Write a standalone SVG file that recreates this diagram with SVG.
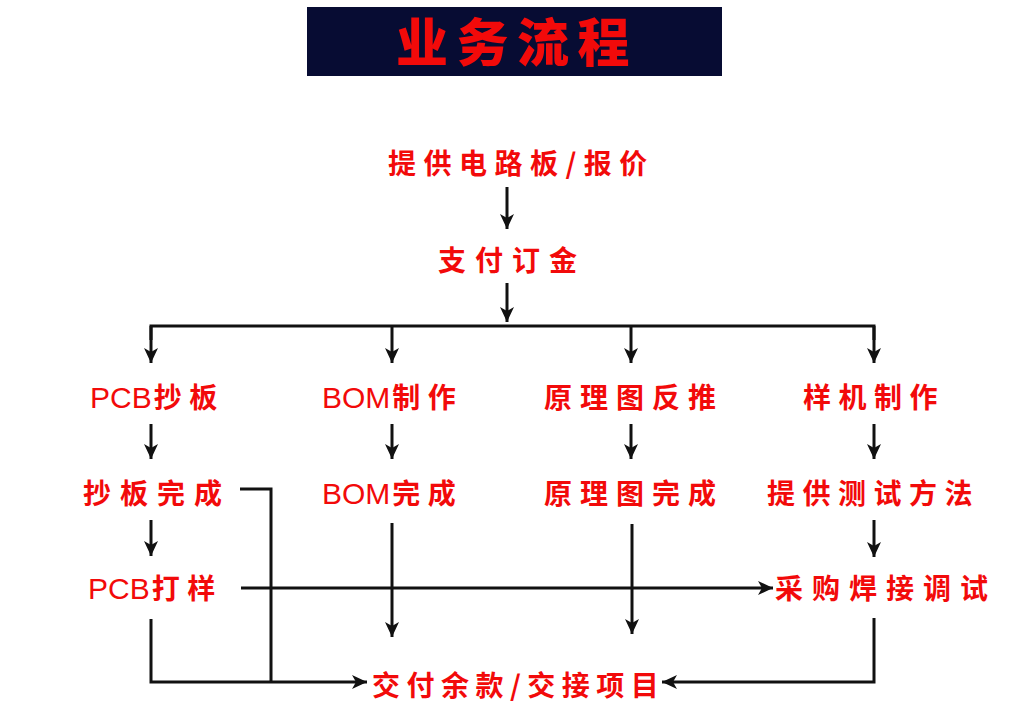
<svg xmlns="http://www.w3.org/2000/svg" width="1024" height="711" viewBox="0 0 1024 711">
<style>
.t{font-family:"Noto Sans CJK SC","Liberation Sans",sans-serif;font-weight:700;font-size:28px;fill:#f20a0a;letter-spacing:7.5px}
.lat{font-family:"Liberation Sans","Noto Sans",sans-serif;font-weight:400;font-size:30px;letter-spacing:0}
.title{font-family:"Noto Sans CJK SC",sans-serif;font-weight:900;font-size:52px;fill:#f20a0a;letter-spacing:8.5px}
.ln{fill:none;stroke:#111;stroke-width:3}
.ar{marker-end:url(#ah)}
</style>
<defs>
<marker id="ah" markerUnits="userSpaceOnUse" markerWidth="16" markerHeight="14" refX="15" refY="7" orient="auto">
<path d="M0,0 L15,7 L0,14 L4,7 z" fill="#111"/>
</marker>
</defs>
<rect width="1024" height="711" fill="#fff"/>
<g id="title">
<rect x="307" y="7" width="415" height="69" fill="#070c33"/>
<text class="title" x="396" y="62">业务流程</text>
</g>
<g id="connectors">
<line class="ln ar" x1="507" y1="187" x2="507" y2="229"/>
<polyline class="ln" points="151,340 151,326 874,326 874,340"/>
<line class="ln ar" x1="507" y1="283" x2="507" y2="322"/>
<line class="ln ar" x1="151" y1="326" x2="151" y2="363"/>
<line class="ln ar" x1="392" y1="326" x2="392" y2="363"/>
<line class="ln ar" x1="631" y1="326" x2="631" y2="363"/>
<line class="ln ar" x1="874" y1="326" x2="874" y2="363"/>
<line class="ln ar" x1="151" y1="424" x2="151" y2="459"/>
<line class="ln ar" x1="392" y1="424" x2="392" y2="459"/>
<line class="ln ar" x1="631" y1="424" x2="631" y2="459"/>
<line class="ln ar" x1="874" y1="424" x2="874" y2="459"/>
<line class="ln ar" x1="151" y1="520" x2="151" y2="556"/>
<line class="ln ar" x1="874" y1="520" x2="874" y2="557"/>
<line class="ln ar" x1="241" y1="588" x2="773" y2="588"/>
<line class="ln ar" x1="392" y1="523" x2="392" y2="637"/>
<line class="ln ar" x1="632" y1="524" x2="632" y2="634"/>
<polyline class="ln" points="240,489 271,489 271,682"/>
<polyline class="ln ar" points="151,619 151,682 367,682"/>
<polyline class="ln ar" points="874,618 874,682 662,682"/>
</g>
<g id="n1"><text class="t" x="388" y="174">提供电路板/报价</text></g>
<g id="n2"><text class="t" x="438" y="271" style="letter-spacing:9px">支付订金</text></g>
<g id="n3"><text class="t" x="90" y="408"><tspan class="lat">PCB</tspan><tspan dx="2">抄板</tspan></text></g>
<g id="n4"><text class="t" x="322" y="408"><tspan class="lat">BOM</tspan><tspan dx="2">制作</tspan></text></g>
<g id="n5"><text class="t" x="544" y="408" style="letter-spacing:8px">原理图反推</text></g>
<g id="n6"><text class="t" x="803" y="408">样机制作</text></g>
<g id="n7"><text class="t" x="83" y="504" style="letter-spacing:9px">抄板完成</text></g>
<g id="n8"><text class="t" x="322" y="504"><tspan class="lat">BOM</tspan><tspan dx="2">完成</tspan></text></g>
<g id="n9"><text class="t" x="544" y="504" style="letter-spacing:8px">原理图完成</text></g>
<g id="n10"><text class="t" x="767" y="504">提供测试方法</text></g>
<g id="n11"><text class="t" x="88" y="599"><tspan class="lat">PCB</tspan><tspan dx="2">打样</tspan></text></g>
<g id="n12"><text class="t" x="775" y="599" style="letter-spacing:9px">采购焊接调试</text></g>
<g id="n13"><text class="t" x="372" y="696" style="letter-spacing:6.5px">交付余款/交接项目</text></g>
</svg>
